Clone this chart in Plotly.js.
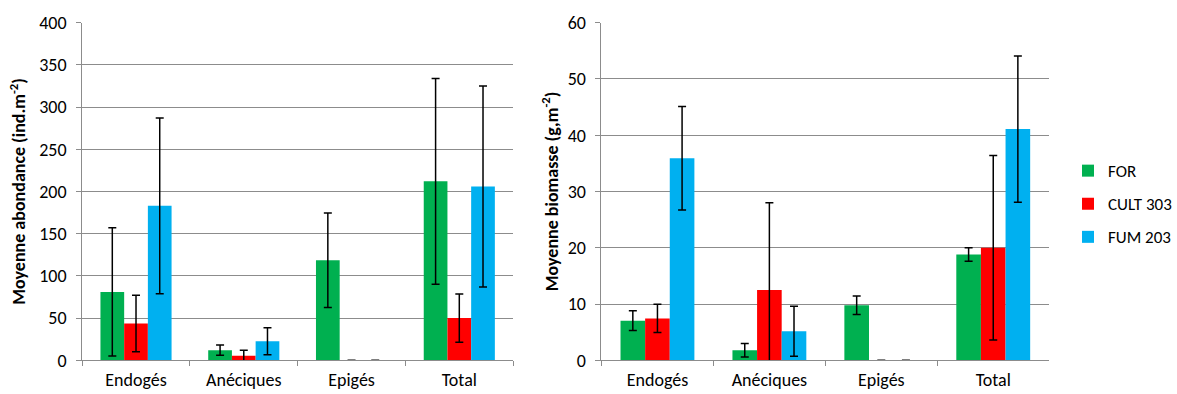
<!DOCTYPE html>
<html><head><meta charset="utf-8">
<script src="https://cdn.plot.ly/plotly-3.0.1.min.js"></script>
<style>html,body{margin:0;padding:0;background:#fff}#chart{width:1177px;height:394px}</style>
</head><body><div id="chart"></div>
<script>
const categories = ["Endogés", "Anéciques", "Epigés", "Total"];
const seriesNames = ["FOR", "CULT 303", "FUM 203"];
const colors = ["#00B050", "#FF0000", "#00B0F0"];

// Abondance (ind.m-2)
const abondFOR = [81, 12, 118.5, 212];
const abondCULT = [43.5, 5.5, 0, 50];
const abondFUM = [183, 22.5, 0, 206];
const abondErrFOR = [76, 6, 56, 122];
const abondErrCULT = [33.5, 6.5, 0, 28.5];
const abondErrFUM = [104, 16, 0, 119];

// Biomasse (g.m-2)
const bioFOR = [7.05, 1.8, 9.8, 18.8];
const bioCULT = [7.45, 12.5, 0, 20];
const bioFUM = [35.9, 5.15, 0, 41.1];
const bioErrFOR = [1.75, 1.2, 1.65, 1.2];
const bioErrCULT = [2.5, 15.5, 0, 16.4];
const bioErrFUM = [9.2, 4.45, 0, 13];

const font = "Carlito, Lato, 'Open Sans', sans-serif";
const abond = [abondFOR, abondCULT, abondFUM];
const abondErr = [abondErrFOR, abondErrCULT, abondErrFUM];
const bio = [bioFOR, bioCULT, bioFUM];
const bioErr = [bioErrFOR, bioErrCULT, bioErrFUM];

const traces = [];
for (let i = 0; i < 3; i++) {
  traces.push({
    type: "bar", x: categories, y: abond[i], name: seriesNames[i],
    marker: {color: colors[i]}, xaxis: "x", yaxis: "y", showlegend: false,
    legendgroup: "g" + i,
    error_y: {type: "data", array: abondErr[i], visible: true, color: "#000", thickness: 1.5, width: 4}
  });
}
for (let i = 0; i < 3; i++) {
  traces.push({
    type: "bar", x: categories, y: bio[i], name: seriesNames[i],
    marker: {color: colors[i]}, xaxis: "x2", yaxis: "y2", showlegend: true,
    legendgroup: "g" + i,
    error_y: {type: "data", array: bioErr[i], visible: true, color: "#000", thickness: 1.5, width: 4}
  });
}

const xbase = {
  type: "category", showline: true, linecolor: "#8c8c8c", linewidth: 1,
  ticks: "outside", tickson: "boundaries", ticklen: 5, tickcolor: "#8c8c8c",
  showgrid: false, zeroline: false, fixedrange: true, ticklabelstandoff: 3,
  tickfont: {family: font, size: 18, color: "#000"}
};
const ybase = {
  showline: true, linecolor: "#8c8c8c", linewidth: 1,
  ticks: "outside", ticklen: 5, tickcolor: "#8c8c8c",
  showgrid: true, gridcolor: "#8c8c8c", gridwidth: 1, zeroline: false,
  tickfont: {family: font, size: 18, color: "#000"}, ticklabelstandoff: 6
};

const layout = {
  width: 1177, height: 394,
  margin: {l: 0, r: 0, t: 0, b: 0},
  paper_bgcolor: "#fff", plot_bgcolor: "#fff",
  barmode: "group", bargap: 0.34, bargroupgap: 0,
  font: {family: font, color: "#000"},
  xaxis: Object.assign({}, xbase, {domain: [0.0705, 0.4405], anchor: "y"}),
  yaxis: Object.assign({}, ybase, {domain: [0.0855, 0.9424], anchor: "x", range: [0, 400], dtick: 50,
    title: {text: "Moyenne abondance (ind.m<sup>-2</sup>)", font: {family: font, size: 18, color: "#000", weight: "bold"}, standoff: 8}}),
  xaxis2: Object.assign({}, xbase, {domain: [0.5163, 0.9006], anchor: "y2"}),
  yaxis2: Object.assign({}, ybase, {domain: [0.0855, 0.9424], anchor: "x2", range: [0, 60], dtick: 10,
    title: {text: "Moyenne biomasse (g,m<sup>-2</sup>)", font: {family: font, size: 18, color: "#000", weight: "bold"}, standoff: 4}}),
  showlegend: true,
  legend: {x: 0.917, y: 0.482, xanchor: "left", yanchor: "middle", font: {family: font, size: 17, color: "#000"},
    tracegroupgap: 8, itemwidth: 30, bgcolor: "rgba(0,0,0,0)"}
};

Plotly.newPlot("chart", traces, layout, {staticPlot: true, displayModeBar: false});
</script></body></html>
